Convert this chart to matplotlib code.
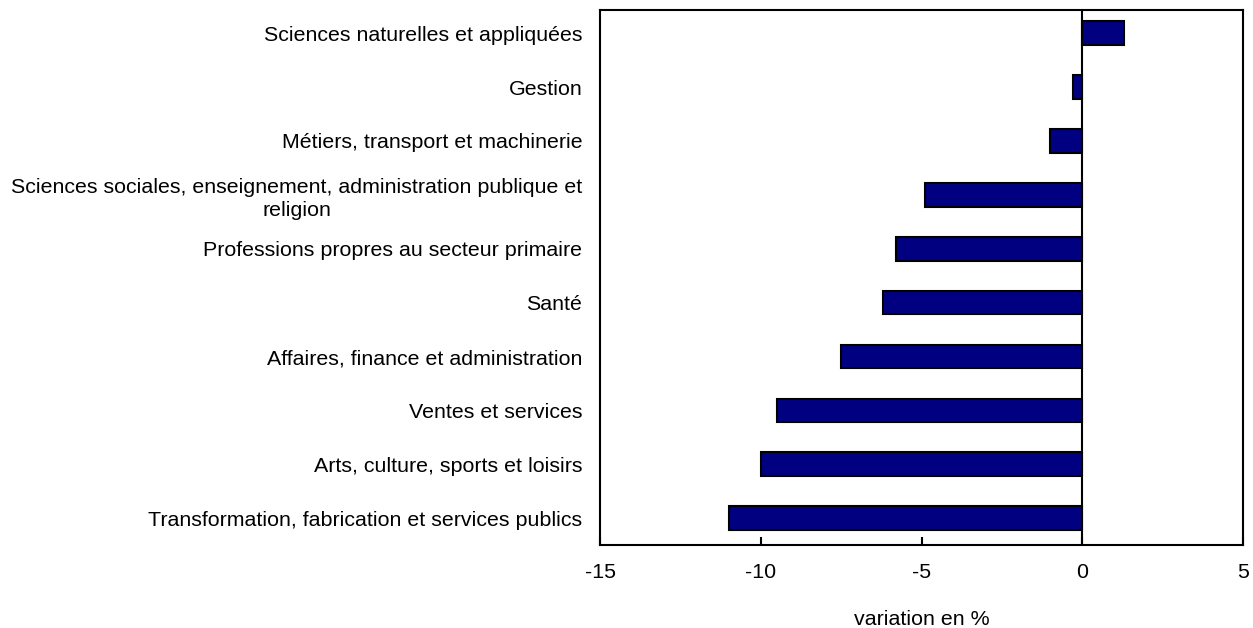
import matplotlib
matplotlib.use("Agg")
import matplotlib.pyplot as plt
import numpy as np

plt.rcParams["font.family"] = ["Liberation Sans", "DejaVu Sans"]

categories = [
    "Transformation, fabrication et services publics",
    "Arts, culture, sports et loisirs",
    "Ventes et services",
    "Affaires, finance et administration",
    "Santé",
    "Professions propres au secteur primaire",
    "Sciences sociales, enseignement, administration publique et\nreligion",
    "Métiers, transport et machinerie",
    "Gestion",
    "Sciences naturelles et appliquées",
]
values = [-11.0, -10.0, -9.5, -7.5, -6.2, -5.8, -4.9, -1.0, -0.3, 1.3]

fig = plt.figure(figsize=(12.53, 6.28), dpi=100)
ax = fig.add_axes([0.479, 0.132, 0.513, 0.852])

y = np.arange(len(categories))
ax.barh(y, values, height=0.44, color="#000080", edgecolor="black", lw=1.5, zorder=2)
ax.axvline(0, color="black", lw=1.5, zorder=3)

ax.set_xlim(-15, 5)
ax.set_ylim(-0.5, 9.43)
ax.set_xticks([-15, -10, -5, 0, 5])
ax.set_xticklabels(["-15", "-10", "-5", "0", "5"])
ax.tick_params(axis="x", direction="in", length=6, width=1.5, labelsize=15.4, pad=13)
ax.set_yticks(y)
ax.set_yticklabels(categories, fontsize=15.4, multialignment="center", linespacing=1.25)
ax.tick_params(axis="y", length=0, pad=13)
for s in ax.spines.values():
    s.set_linewidth(1.5)
ax.set_xlabel("variation en %", fontsize=15.4, labelpad=20)

fig.savefig("out.png", dpi=100)
